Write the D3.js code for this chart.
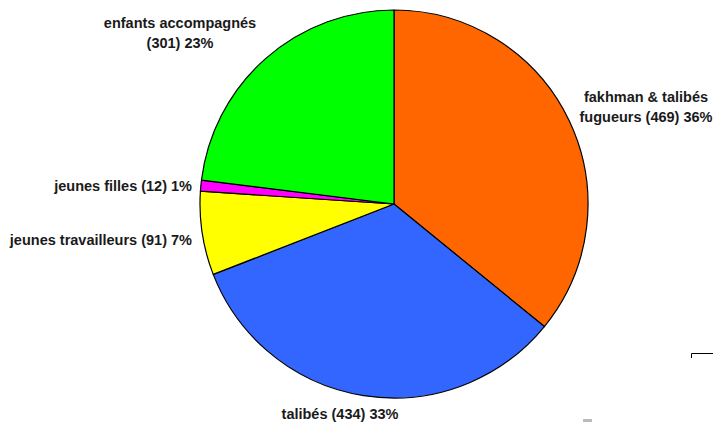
<!DOCTYPE html>
<html>
<head>
<meta charset="utf-8">
<script src="https://cdn.jsdelivr.net/npm/d3@7"></script>
<style>
html,body{margin:0;padding:0;background:#fff;}
svg{display:block;}
text{font-family:"Liberation Sans",Arial,sans-serif;font-weight:bold;font-size:14.5px;fill:#1a1a1a;}
</style>
</head>
<body>
<svg id="chart" width="713" height="422"></svg>
<script>
const categories = ["fakhman & talibés fugueurs", "talibés", "jeunes travailleurs", "jeunes filles", "enfants accompagnés"];
const values = [469, 434, 91, 12, 301];
const percents = ["36%", "33%", "7%", "1%", "23%"];
const colors = ["#ff6600", "#3366ff", "#ffff00", "#ff00ff", "#00ff00"];

const svg = d3.select("#chart");
const cx = 394, cy = 204, r = 194;

const pie = d3.pie().sort(null).value(d => d.v);
const data = categories.map((c, i) => ({c, v: values[i], p: percents[i], col: colors[i]}));
const arcs = pie(data);
const arc = d3.arc().innerRadius(0).outerRadius(r);

const g = svg.append("g").attr("transform", `translate(${cx},${cy})`);
g.selectAll("path").data(arcs).join("path")
  .attr("d", arc)
  .attr("fill", d => d.data.col)
  .attr("stroke", "#000")
  .attr("stroke-width", 1.2)
  .attr("stroke-linejoin", "round");

const labelSpec = [
  {lines: [categories[0].replace(" fugueurs", ""), "fugueurs (" + values[0] + ") " + percents[0]], x: 646, y: 97, anchor: "middle"},
  {lines: [categories[1] + " (" + values[1] + ") " + percents[1]], x: 340, y: 414, anchor: "middle"},
  {lines: [categories[2] + " (" + values[2] + ") " + percents[2]], x: 192, y: 240, anchor: "end"},
  {lines: [categories[3] + " (" + values[3] + ") " + percents[3]], x: 192, y: 186, anchor: "end"},
  {lines: [categories[4], "(" + values[4] + ") " + percents[4]], x: 180, y: 23, anchor: "middle"}
];
labelSpec.forEach(s => {
  const t = svg.append("text").attr("text-anchor", s.anchor);
  s.lines.forEach((ln, i) => {
    t.append("tspan").attr("x", s.x).attr("y", s.y + i * 19.5).attr("dy", "0.36em").text(ln);
  });
});

svg.append("path").attr("d", "M691.5,358V353.5H713").attr("fill", "none").attr("stroke", "#000").attr("stroke-width", 1);
svg.append("rect").attr("x", 583).attr("y", 419).attr("width", 9).attr("height", 3).attr("fill", "#bbb");
</script>
</body>
</html>
